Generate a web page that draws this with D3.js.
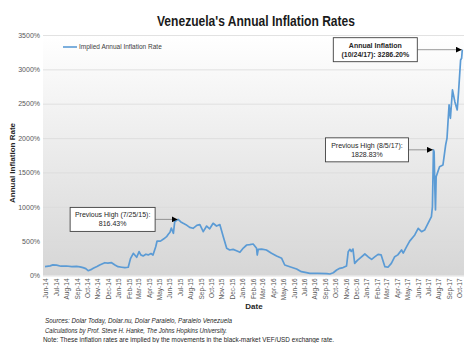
<!DOCTYPE html>
<html>
<head>
<meta charset="utf-8">
<script src="https://cdn.jsdelivr.net/npm/d3@7"></script>
<style>
  body { margin: 0; background: #fff; }
  text { font-family: "Liberation Sans Narrow", "Liberation Sans", Arial, sans-serif; }
</style>
</head>
<body>
<svg id="chart" width="474" height="343"></svg>
<script>
// implied annual inflation
const dates = [
  "2014-06-13","2014-06-28","2014-07-06","2014-07-17","2014-07-30","2014-08-15","2014-08-31","2014-09-14",
  "2014-09-24","2014-10-03","2014-10-11","2014-10-18","2014-10-26","2014-11-02","2014-11-13","2014-11-21",
  "2014-12-06","2014-12-15","2014-12-26","2015-01-05","2015-01-14","2015-01-25","2015-02-03","2015-02-13",
  "2015-02-20","2015-02-28","2015-03-10","2015-03-17","2015-03-22","2015-03-29","2015-04-06","2015-04-13",
  "2015-04-21","2015-04-27","2015-05-05","2015-05-09","2015-05-19","2015-05-29","2015-06-06","2015-06-11",
  "2015-06-16","2015-06-20","2015-06-26","2015-06-30","2015-07-10","2015-07-18","2015-07-25","2015-08-02",
  "2015-08-13","2015-08-23","2015-09-03","2015-09-12","2015-09-22","2015-10-02","2015-10-11","2015-10-21",
  "2015-10-31","2015-11-10","2015-11-20","2015-11-30","2015-12-09","2015-12-19","2015-12-29","2016-01-08",
  "2016-01-18","2016-01-28","2016-02-06","2016-02-16","2016-02-26","2016-02-28","2016-03-02","2016-03-12",
  "2016-03-26","2016-04-10","2016-04-25","2016-05-10","2016-05-19","2016-06-03","2016-06-23","2016-07-07",
  "2016-07-22","2016-08-01","2016-08-24","2016-09-20","2016-09-29","2016-10-09","2016-10-19","2016-10-28",
  "2016-11-07","2016-11-17","2016-11-22","2016-11-27","2016-12-01","2016-12-06","2016-12-11","2016-12-19",
  "2016-12-26","2017-01-10","2017-01-20","2017-01-30","2017-02-08","2017-02-18","2017-02-27","2017-03-10",
  "2017-03-19","2017-03-29","2017-04-08","2017-04-17","2017-04-28","2017-05-03","2017-05-13","2017-05-22",
  "2017-06-06","2017-06-16","2017-06-26","2017-07-05","2017-07-15","2017-07-25","2017-07-28","2017-07-31",
  "2017-08-02","2017-08-04","2017-08-06","2017-08-08","2017-08-18","2017-08-28","2017-09-05","2017-09-09",
  "2017-09-15","2017-09-19","2017-09-25","2017-10-02","2017-10-09","2017-10-13","2017-10-19","2017-10-22",
  "2017-10-24"
];
const rates = [
  128, 140, 155, 150, 135, 138, 128, 132,
  125, 114, 100, 70, 85, 105, 130, 153,
  186, 180, 186, 153, 128, 120, 114, 120,
  250, 323, 265, 347, 300, 285, 310, 300,
  320, 298, 419, 501, 500, 534, 565, 600,
  629, 690, 614, 783, 816.43, 780, 760, 740,
  700, 687, 730, 740, 638, 720, 680, 760,
  720, 740, 565, 396, 371, 380, 361, 337,
  400, 444, 450, 458, 396, 298, 381, 385,
  371, 323, 284, 250, 153, 128, 95, 56,
  41, 32, 30, 28, 22, 40, 80, 104,
  115, 138, 347, 381, 350, 385, 177, 220,
  250, 313, 270, 235, 270, 308, 300, 128,
  120, 177, 274, 300, 371, 327, 419, 500,
  590, 687, 638, 662, 760, 856, 1000, 1828.83,
  1800, 1300, 953, 1438, 1584, 1608, 1900, 2000,
  2482, 2288, 2700, 2530, 2409, 2675, 3137, 3161,
  3286.2
];
const yTicks = [0, 500, 1000, 1500, 2000, 2500, 3000, 3500];
const monthLabels = [
  "Jun-14","Jul-14","Aug-14","Sep-14","Oct-14","Nov-14","Dec-14",
  "Jan-15","Feb-15","Mar-15","Apr-15","May-15","Jun-15","Jul-15","Aug-15","Sep-15","Oct-15","Nov-15","Dec-15",
  "Jan-16","Feb-16","Mar-16","Apr-16","May-16","Jun-16","Jul-16","Aug-16","Sep-16","Oct-16","Nov-16","Dec-16",
  "Jan-17","Feb-17","Mar-17","Apr-17","May-17","Jun-17","Jul-17","Aug-17","Sep-17","Oct-17"
];
const footnotes = [
  "Sources: Dolar Today, Dolar.nu, Dolar Paralelo, Paralelo Venezuela",
  "Calculations by Prof. Steve H. Hanke, The Johns Hopkins University.",
  "Note: These inflation rates are implied by the movements in the black-market VEF/USD exchange rate."
];
const footWidths = [187, 182, 291];

const parseDate = d3.timeParse("%Y-%m-%d");
const parseMonth = d3.timeParse("%b-%y");
const data = dates.map((d, i) => ({ date: parseDate(d), value: rates[i] }));
// the labels sit in the middle of each month
const monthTicks = monthLabels.map(m => d3.timeDay.offset(parseMonth(m), 14));

const svg = d3.select("#chart");
const margin = { top: 35, right: 10, bottom: 67.5, left: 43 };
const width = 474 - margin.left - margin.right;
const height = 343 - margin.top - margin.bottom;

const x = d3.scaleTime()
  .domain([new Date(2014, 5, 7), new Date(2017, 9, 29)])
  .range([0, width]);
const y = d3.scaleLinear().domain([0, 3500]).range([height, 0]);

const defs = svg.append("defs");
const grad = defs.append("linearGradient")
  .attr("id", "bg").attr("x1", 0).attr("y1", 0).attr("x2", 0).attr("y2", 1);
grad.append("stop").attr("offset", "0%").attr("stop-color", "#ffffff");
grad.append("stop").attr("offset", "100%").attr("stop-color", "#d6d6d6");

defs.append("marker")
  .attr("id", "arrow")
  .attr("viewBox", "0 0 6 6")
  .attr("refX", 6).attr("refY", 3)
  .attr("markerWidth", 6).attr("markerHeight", 6)
  .attr("markerUnits", "userSpaceOnUse")
  .attr("orient", "auto")
  .append("path").attr("d", "M0,0L6,3L0,6Z").attr("fill", "#000");

svg.append("text")
  .attr("x", 256).attr("y", 26)
  .attr("text-anchor", "middle")
  .attr("font-size", 15).attr("font-weight", "bold").attr("fill", "#1a1a1a")
  .attr("textLength", 198).attr("lengthAdjust", "spacingAndGlyphs")
  .text("Venezuela's Annual Inflation Rates");

const g = svg.append("g").attr("transform", `translate(${margin.left},${margin.top})`);

g.append("rect").attr("width", width).attr("height", height).attr("fill", "url(#bg)");

// gridlines
g.append("g")
  .call(d3.axisLeft(y).tickValues(yTicks).tickSize(-width).tickFormat(""))
  .call(a => a.select(".domain").remove())
  .call(a => a.selectAll("line").attr("stroke", "#dadada").attr("stroke-width", 0.8));

// y labels
g.append("g")
  .call(d3.axisLeft(y).tickValues(yTicks).tickSize(0).tickPadding(3).tickFormat(d => d + "%"))
  .call(a => a.select(".domain").remove())
  .call(a => a.selectAll("text")
    .attr("font-size", 7).attr("fill", "#595959")
    .style("font-family", "'Liberation Sans Narrow', 'Liberation Sans', Arial, sans-serif"));

// x labels, rotated
g.append("g")
  .attr("transform", `translate(0,${height})`)
  .call(d3.axisBottom(x).tickValues(monthTicks).tickSize(0).tickFormat(d3.timeFormat("%b-%y")))
  .call(a => a.select(".domain").remove())
  .call(a => a.selectAll("text")
    .attr("transform", "rotate(-90)")
    .attr("text-anchor", "end")
    .attr("x", -3).attr("y", 0).attr("dy", "0.35em")
    .attr("font-size", 6.5).attr("fill", "#595959")
    .style("font-family", "'Liberation Sans Narrow', 'Liberation Sans', Arial, sans-serif"));

svg.append("text")
  .attr("x", 254).attr("y", 309)
  .attr("text-anchor", "middle")
  .attr("font-size", 8).attr("font-weight", "bold").attr("fill", "#262626")
  .text("Date");

svg.append("text")
  .attr("transform", "translate(15,163) rotate(-90)")
  .attr("text-anchor", "middle")
  .attr("font-size", 8).attr("font-weight", "bold").attr("fill", "#262626")
  .text("Annual Inflation Rate");

// series
const line = d3.line().x(d => x(d.date)).y(d => y(d.value));
g.append("path")
  .datum(data)
  .attr("fill", "none")
  .attr("stroke", "#5b9bd5")
  .attr("stroke-width", 1.7)
  .attr("stroke-linejoin", "round")
  .attr("d", line);

// legend
const leg = g.append("g").attr("transform", "translate(20,12)");
leg.append("line").attr("x1", 0).attr("x2", 14).attr("stroke", "#5b9bd5").attr("stroke-width", 1.6);
leg.append("text").attr("x", 16).attr("dy", "0.35em")
  .attr("font-size", 6.5).attr("fill", "#404040")
  .text("Implied Annual Inflation Rate");

// callouts
const notes = [
  { date: "2017-10-24", value: 3286.2, lines: ["Annual Inflation", "(10/24/17): 3286.20%"], bold: true, w: 84, gap: 45 },
  { date: "2017-07-31", value: 1828.83, lines: ["Previous High (8/5/17):", "1828.83%"], bold: false, w: 83, gap: 25 },
  { date: "2015-07-10", value: 816.43, lines: ["Previous High (7/25/15):", "816.43%"], bold: false, w: 85, gap: 23 }
];
notes.forEach(n => {
  const px = x(parseDate(n.date));
  const py = y(n.value);
  const right = px - n.gap;
  const bh = 24;
  g.append("line")
    .attr("x1", right).attr("y1", py).attr("x2", px - 0.5).attr("y2", py)
    .attr("stroke", "#7f7f7f").attr("stroke-width", 0.8)
    .attr("marker-end", "url(#arrow)");
  g.append("rect")
    .attr("x", right - n.w).attr("y", py - bh / 2)
    .attr("width", n.w).attr("height", bh)
    .attr("fill", "#fff").attr("stroke", "#404040").attr("stroke-width", 0.9);
  n.lines.forEach((t, i) => {
    g.append("text")
      .attr("x", right - n.w / 2).attr("y", py - 2 + i * 9)
      .attr("text-anchor", "middle")
      .attr("font-size", 7)
      .attr("font-weight", n.bold ? "bold" : "normal")
      .attr("fill", "#262626")
      .text(t);
  });
});

// footnotes
footnotes.forEach((t, i) => {
  svg.append("text")
    .attr("x", i < 2 ? 45 : 43).attr("y", 323 + i * 9.5)
    .attr("font-size", 6.8)
    .attr("font-style", i < 2 ? "italic" : "normal")
    .attr("fill", "#262626")
    .attr("textLength", footWidths[i]).attr("lengthAdjust", "spacingAndGlyphs")
    .text(t);
});
</script>
</body>
</html>
